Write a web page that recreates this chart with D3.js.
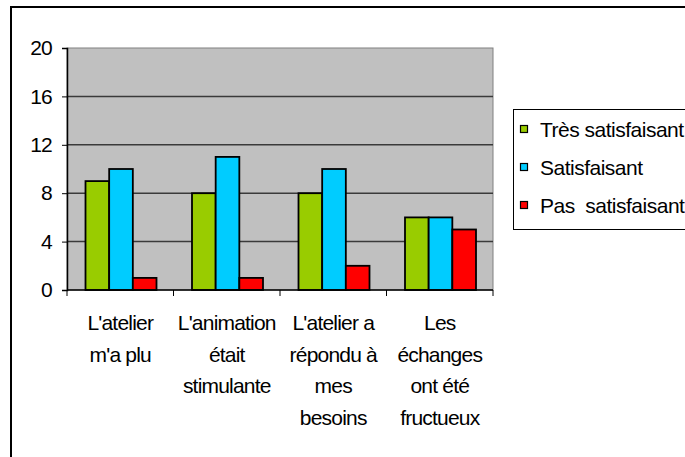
<!DOCTYPE html>
<html>
<head>
<meta charset="utf-8">
<script src="https://cdn.jsdelivr.net/npm/d3@7"></script>
<style>
  body { margin: 0; background: #fff; }
  text { font-family: "Liberation Sans", Arial, sans-serif; fill: #000; }
</style>
</head>
<body>
<div id="chart"></div>
<script>
// data
const CATEGORIES = [
	["L'atelier", "m'a plu"],
	["L'animation", "était", "stimulante"],
	["L'atelier a", "répondu à", "mes", "besoins"],
	["Les", "échanges", "ont été", "fructueux"]
];
const SERIES = ["Très satisfaisant", "Satisfaisant", "Pas  satisfaisant"];
const COLORS = ["#99cc00", "#00ccff", "#ff0000"];
const TRES = [9, 8, 8, 6];
const SATIS = [10, 11, 10, 6];
const PAS = [1, 1, 2, 5];
const Y_TICKS = [0, 4, 8, 12, 16, 20];

const WIDTH = 685;
const HEIGHT = 457;
const PLOT = {left: 67, right: 493, top: 48, bottom: 290};

const SVG = d3.select("#chart")
	.append("svg")
		.attr("width", WIDTH)
		.attr("height", HEIGHT);

// outer frame (cut by the picture on the right and bottom)
SVG.append("rect")
	.attr("x", 11).attr("y", 7)
	.attr("width", 700).attr("height", 480)
	.attr("fill", "none")
	.attr("stroke", "#000")
	.attr("stroke-width", 2);

const X = d3.scaleBand()
	.domain(d3.range(CATEGORIES.length))
	.range([PLOT.left, PLOT.right]);

const X_SUB = d3.scaleBand()
	.domain(d3.range(SERIES.length))
	.range([18.5, 89.5]);

const Y = d3.scaleLinear()
	.domain([0, 20])
	.range([PLOT.bottom, PLOT.top]);

// plot area
SVG.append("rect")
	.attr("x", PLOT.left).attr("y", PLOT.top)
	.attr("width", PLOT.right - PLOT.left)
	.attr("height", PLOT.bottom - PLOT.top)
	.attr("fill", "#c0c0c0")
	.attr("stroke", "#808080")
	.attr("stroke-width", 1);

// gridlines
SVG.selectAll(".grid")
	.data(Y_TICKS.filter((d) => d > 0 && d < 20))
	.enter()
	.append("line")
		.attr("x1", PLOT.left).attr("x2", PLOT.right)
		.attr("y1", (d) => Y(d)).attr("y2", (d) => Y(d))
		.attr("stroke", "#3a3a3a")
		.attr("stroke-width", 1.5);

// bars
const rows = CATEGORIES.map((c, i) => [TRES[i], SATIS[i], PAS[i]]);
const groups = SVG.selectAll(".cat")
	.data(rows)
	.enter()
	.append("g")
		.attr("transform", (d, i) => "translate(" + X(i) + ",0)");

groups.selectAll("rect")
	.data((d) => d)
	.enter()
	.append("rect")
		.attr("x", (d, j) => X_SUB(j))
		.attr("y", (d) => Y(d))
		.attr("width", X_SUB.bandwidth())
		.attr("height", (d) => Y(0) - Y(d))
		.attr("fill", (d, j) => COLORS[j])
		.attr("stroke", "#000")
		.attr("stroke-width", 1.8);

// y axis
const yAxis = SVG.append("g")
	.attr("transform", "translate(" + PLOT.left + ",0)")
	.call(d3.axisLeft(Y).tickValues(Y_TICKS).tickSize(5).tickPadding(10));
yAxis.select(".domain").attr("stroke", "#000").attr("stroke-width", 1.5);
yAxis.selectAll("line").attr("stroke", "#000");
yAxis.selectAll("text")
	.attr("font-size", 21)
	.attr("letter-spacing", -0.8)
	.attr("font-family", "Liberation Sans, Arial, sans-serif");

// x axis
const xAxis = SVG.append("g")
	.attr("transform", "translate(0," + PLOT.bottom + ")");
xAxis.append("line")
	.attr("x1", PLOT.left).attr("x2", PLOT.right)
	.attr("stroke", "#000").attr("stroke-width", 1.5);
xAxis.selectAll(".tick")
	.data(d3.range(CATEGORIES.length + 1))
	.enter()
	.append("line")
		.attr("x1", (d) => PLOT.left + d * X.bandwidth())
		.attr("x2", (d) => PLOT.left + d * X.bandwidth())
		.attr("y1", 0).attr("y2", 6)
		.attr("stroke", "#000");

// category labels
const labels = SVG.selectAll(".label")
	.data(CATEGORIES)
	.enter()
	.append("text")
		.attr("text-anchor", "middle")
		.attr("font-size", 21)
		.attr("letter-spacing", -0.8)
		.attr("transform", (d, i) => "translate(" + (X(i) + X.bandwidth() / 2) + ",0)");
labels.selectAll("tspan")
	.data((d) => d)
	.enter()
	.append("tspan")
		.attr("x", 0)
		.attr("y", (d, k) => 330 + k * 31.7)
		.text((d) => d);

// legend
const LEGEND = SVG.append("g");
LEGEND.append("rect")
	.attr("x", 513.5).attr("y", 109.5)
	.attr("width", 200).attr("height", 120)
	.attr("fill", "#fff")
	.attr("stroke", "#000");

const items = LEGEND.selectAll(".item")
	.data(SERIES)
	.enter()
	.append("g")
		.attr("transform", (d, i) => "translate(520," + (125 + i * 38) + ")");
items.append("rect")
	.attr("x", 0.5).attr("y", 0.5)
	.attr("width", 7).attr("height", 7)
	.attr("fill", (d, i) => COLORS[i])
	.attr("stroke", "#000")
	.attr("stroke-width", 1.2);
items.append("text")
	.attr("x", 20).attr("y", 12)
	.attr("font-size", 21)
	.attr("letter-spacing", -0.5)
	.style("white-space", "pre")
	.text((d) => d);
</script>
</body>
</html>
